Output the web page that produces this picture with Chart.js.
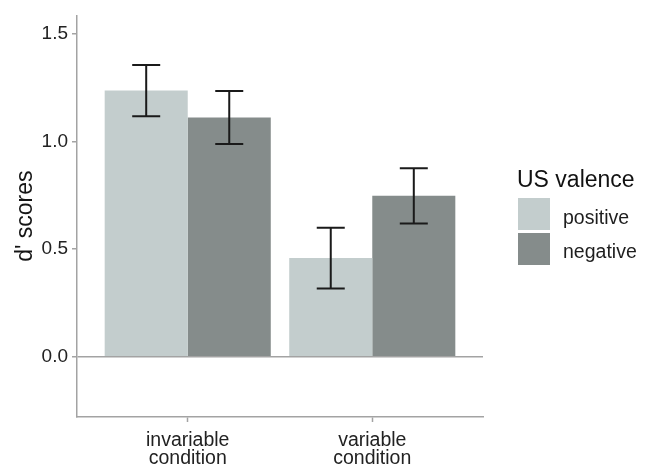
<!DOCTYPE html>
<html>
<head>
<meta charset="utf-8">
<script src="https://cdn.jsdelivr.net/npm/chart.js@4.4.1/dist/chart.umd.min.js"></script>
<style>
  html, body { margin: 0; padding: 0; background: #ffffff; }
  #wrap { position: relative; width: 650px; height: 468px; font-family: "Liberation Sans", Arial, sans-serif; }
  #chart { position: absolute; left: 0; top: 0; }
  .legend-title { position: absolute; left: 517px; top: 168px; font-size: 23px; line-height: 23px; color: #111; white-space: nowrap; }
  .legend-key { position: absolute; left: 518px; width: 32px; height: 32px; }
  .legend-label { position: absolute; left: 563px; font-size: 19.5px; line-height: 19px; color: #1e1e1e; white-space: nowrap; }
</style>
</head>
<body>
<div id="wrap">
  <canvas id="chart" width="650" height="468"></canvas>
  <div id="legend"></div>
</div>
<script>
// Conditions along the x axis (each label split over two lines)
const categories = [["invariable", "condition"], ["variable", "condition"]];
const categoryPositions = [1, 2];

// Mean d' per condition for each US valence, with standard errors
const positiveScores = [1.236, 0.458];
const negativeScores = [1.111, 0.747];
const positiveSE = [0.119, 0.141];
const negativeSE = [0.123, 0.128];

const seriesNames = ["positive", "negative"];
const seriesColors = ["#c3cdcd", "#858c8b"];
const legendTitle = "US valence";

const yTicks = [0, 0.5, 1.0, 1.5];

const axisGrey = "#a3a3a3";

// Whiskers showing mean ± SE on top of each bar
const errorBarPlugin = {
  id: "errorBars",
  afterDatasetsDraw(chart) {
    const ctx = chart.ctx;
    const yScale = chart.scales.y;
    const seByDataset = [positiveSE, negativeSE];
    const valuesByDataset = [positiveScores, negativeScores];
    ctx.save();
    ctx.strokeStyle = "#1a1a1a";
    ctx.lineWidth = 2;
    chart.data.datasets.forEach((ds, di) => {
      const meta = chart.getDatasetMeta(di);
      meta.data.forEach((bar, i) => {
        const v = valuesByDataset[di][i];
        const se = seByDataset[di][i];
        const yHi = yScale.getPixelForValue(v + se);
        const yLo = yScale.getPixelForValue(v - se);
        const cap = 14;
        ctx.beginPath();
        ctx.moveTo(bar.x, yHi);
        ctx.lineTo(bar.x, yLo);
        ctx.moveTo(bar.x - cap, yHi);
        ctx.lineTo(bar.x + cap, yHi);
        ctx.moveTo(bar.x - cap, yLo);
        ctx.lineTo(bar.x + cap, yLo);
        ctx.stroke();
      });
    });
    ctx.restore();
  }
};

const toPoints = (vals) => vals.map((v, i) => ({ x: categoryPositions[i], y: v }));

new Chart(document.getElementById("chart"), {
  type: "bar",
  data: {
    datasets: [
      { label: seriesNames[0], data: toPoints(positiveScores), backgroundColor: seriesColors[0] },
      { label: seriesNames[1], data: toPoints(negativeScores), backgroundColor: seriesColors[1] }
    ]
  },
  options: {
    responsive: false,
    animation: false,
    layout: { padding: { top: 13, right: 167, left: 0, bottom: 0 } },
    datasets: { bar: { categoryPercentage: 0.9, barPercentage: 1.0, borderWidth: 0 } },
    plugins: { legend: { display: false }, tooltip: { enabled: false } },
    scales: {
      x: {
        type: "linear",
        min: 0.4,
        max: 2.6,
        offset: false,
        afterBuildTicks(scale) { scale.ticks = categoryPositions.map(v => ({ value: v })); },
        afterFit(scale) { scale.height = 51; },
        ticks: {
          callback: (v) => categories[categoryPositions.indexOf(v)],
          color: "#222222",
          font: { family: "'Liberation Sans', Arial, sans-serif", size: 19.5, lineHeight: 0.96 },
          padding: 9,
          maxRotation: 0,
          autoSkip: false
        },
        grid: { offset: false, drawOnChartArea: false, tickLength: 5, tickColor: axisGrey, tickWidth: 1.5 },
        border: { display: true, color: axisGrey, width: 1.5 }
      },
      y: {
        min: -0.28,
        max: 1.585,
        afterBuildTicks(scale) { scale.ticks = yTicks.map(v => ({ value: v })); },
        afterFit(scale) { scale.width = 77; },
        ticks: {
          callback: (v) => v.toFixed(1),
          color: "#222222",
          font: { family: "'Liberation Sans', Arial, sans-serif", size: 19 },
          padding: 4
        },
        grid: {
          color: (c) => (c.tick && c.tick.value === 0 ? axisGrey : "rgba(0,0,0,0)"),
          lineWidth: 1.5,
          tickLength: 5,
          tickColor: axisGrey,
          tickWidth: 1.5
        },
        border: { display: true, color: axisGrey, width: 1.5 },
        title: {
          display: true,
          text: "d' scores",
          color: "#151515",
          font: { family: "'Liberation Sans', Arial, sans-serif", size: 23 },
          padding: { top: 12, bottom: 0 }
        }
      }
    }
  },
  plugins: [errorBarPlugin]
});

// Legend for the US valence fill colours
const legend = document.getElementById("legend");
const title = document.createElement("div");
title.className = "legend-title";
title.textContent = legendTitle;
legend.appendChild(title);
seriesNames.forEach((name, i) => {
  const key = document.createElement("div");
  key.className = "legend-key";
  key.style.top = (198 + i * 35) + "px";
  key.style.background = seriesColors[i];
  legend.appendChild(key);
  const label = document.createElement("div");
  label.className = "legend-label";
  label.style.top = (208 + i * 34) + "px";
  label.textContent = name;
  legend.appendChild(label);
});
</script>
</body>
</html>
